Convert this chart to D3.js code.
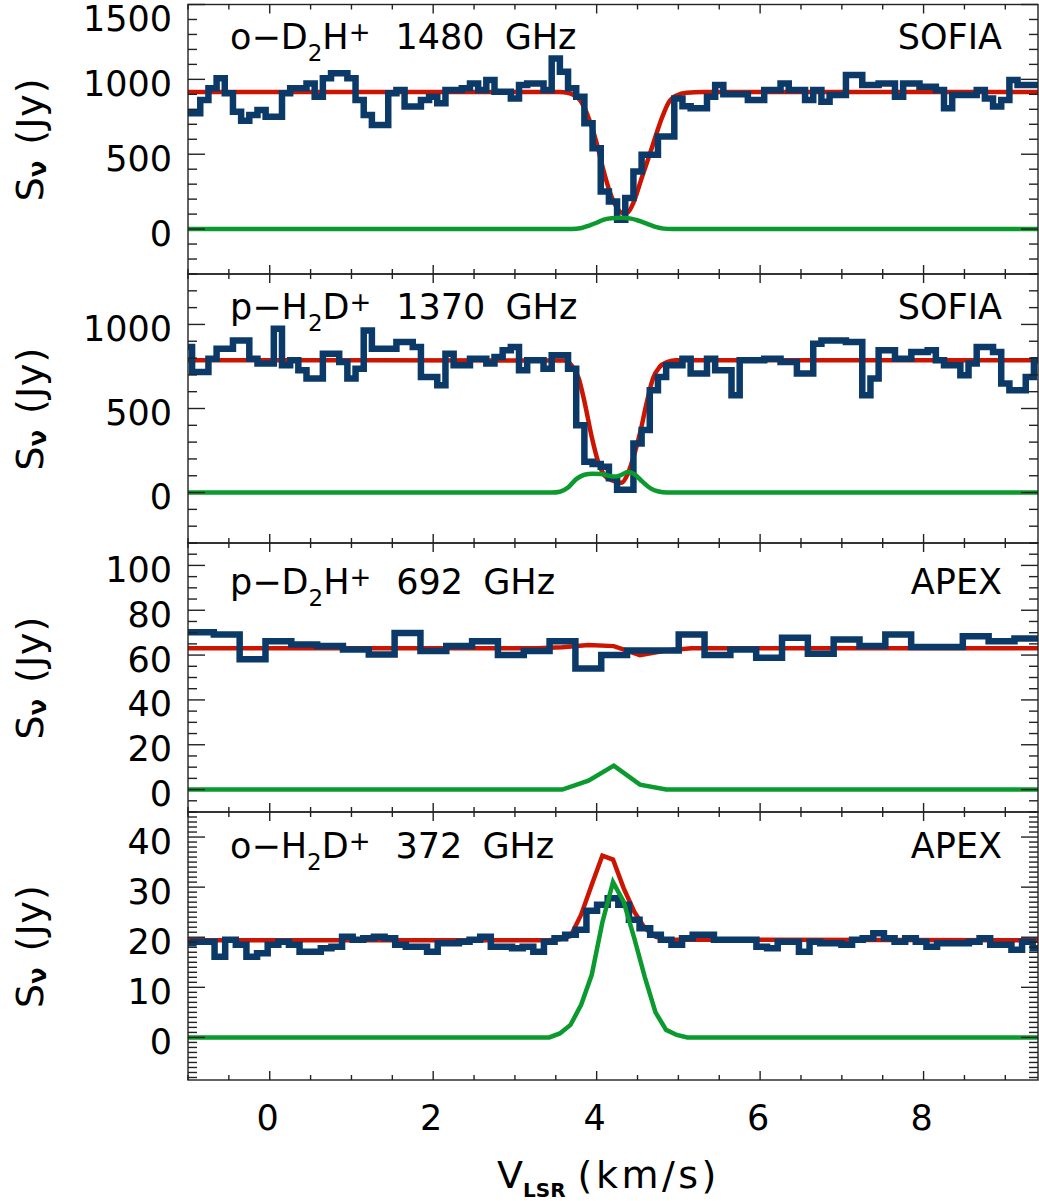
<!DOCTYPE html>
<html><head><meta charset="utf-8">
<script src="https://cdn.jsdelivr.net/npm/d3@7"></script>
<style>
body{margin:0;background:#fff}
text{font-family:"DejaVu Sans",sans-serif;fill:#000}
</style>
</head><body>
<svg id="chart" width="1039" height="1201"></svg>
<script>
// ---------------- DATA ----------------
const xTicks = [0, 2, 4, 6, 8];
const xMinorStep = 0.5;

const yTicks1 = [0, 500, 1000, 1500];
const yTicks2 = [0, 500, 1000];
const yTicks3 = [0, 20, 40, 60, 80, 100];
const yTicks4 = [0, 10, 20, 30, 40];
const yMinorSteps = [100, 100, 5, 1];
const yDomains = [[-300, 1500], [-300, 1300], [-10, 110], [-8.5, 45]];

const lineLabels = [
  [["o\u2212D", 0], ["2", -1], ["H", 0], ["+", 1], ["1480 GHz", 2]],
  [["p\u2212H", 0], ["2", -1], ["D", 0], ["+", 1], ["1370 GHz", 2]],
  [["p\u2212D", 0], ["2", -1], ["H", 0], ["+", 1], ["692 GHz", 2]],
  [["o\u2212H", 0], ["2", -1], ["D", 0], ["+", 1], ["372 GHz", 2]]
];
const telescopes = ["SOFIA", "SOFIA", "APEX", "APEX"];

// channel grids (first channel centre, channel width in km/s)
const chanStart = [-1.0, -1.0, -0.842, -1.0];
const chanWidth = [0.1, 0.1, 0.316, 0.13];

// observed spectra (Jy), one value per channel
const obsD2H1480 = [
  773, 773, 862, 940, 1007, 907, 784, 724, 762, 796,
  751, 751, 907, 940, 940, 973, 884, 1007, 1040, 1040,
  1007, 862, 762, 696, 696, 907, 929, 818, 818, 862,
  884, 840, 929, 929, 940, 973, 929, 996, 918, 918,
  873, 962, 973, 973, 929, 1140, 1051, 940, 884, 707,
  540, 251, 184, 62, 207, 384, 496, 496, 618, 618,
  873, 820, 807, 807, 884, 962, 900, 900, 900, 862,
  862, 929, 929, 973, 929, 929, 862, 929, 851, 896,
  896, 1029, 1029, 962, 962, 973, 973, 884, 973, 973,
  951, 951, 929, 807, 896, 896, 896, 929, 873, 818,
  862, 996, 962, 962, 962
];
const obsH2D1370 = [
  866, 717, 717, 796, 856, 856, 905, 905, 796, 767,
  767, 974, 757, 787, 727, 678, 678, 826, 826, 777,
  678, 737, 964, 856, 856, 856, 895, 895, 866, 688,
  688, 638, 826, 757, 757, 796, 796, 767, 806, 846,
  866, 727, 787, 787, 737, 816, 816, 737, 401, 184,
  170, 154, 85, 16, 16, 292, 372, 609, 688, 757,
  757, 796, 708, 708, 796, 727, 727, 579, 787, 787,
  787, 796, 796, 777, 777, 708, 708, 885, 905, 905,
  905, 895, 895, 579, 678, 846, 846, 796, 796, 836,
  836, 846, 787, 757, 757, 698, 767, 866, 866, 836,
  648, 609, 609, 688, 787
];
const obsD2H692 = [
  70.2, 69.2, 58.1, 66.2, 64.7, 64.0, 62.5, 60.3, 69.9, 61.8,
  64.0, 66.2, 60.0, 61.8, 66.2, 54.0, 60.0, 62.1, 62.1, 69.2,
  60.0, 62.5, 58.8, 67.7, 60.6, 67.0, 64.0, 69.2, 63.6, 63.6,
  68.4, 66.2, 67.4
];
const obsH2D372 = [
  18.8, 19.1, 19.1, 16.1, 19.5, 18.5, 16.1, 16.8, 18.5, 19.1,
  18.5, 17.1, 17.1, 17.8, 18.1, 20.1, 19.5, 19.8, 20.1, 19.8,
  18.5, 18.1, 18.1, 17.1, 18.8, 18.8, 19.1, 19.5, 20.1, 18.1,
  18.1, 17.8, 18.1, 17.1, 19.1, 19.8, 20.5, 21.5, 25.3, 26.5,
  27.8, 26.5, 23.5, 21.8, 20.5, 19.5, 18.5, 19.8, 20.5, 20.5,
  19.5, 19.5, 19.5, 19.5, 18.1, 17.8, 19.1, 19.1, 17.1, 19.1,
  18.8, 18.8, 18.5, 19.5, 19.8, 20.8, 19.8, 19.1, 19.8, 19.1,
  18.1, 18.8, 18.8, 18.8, 19.1, 19.8, 18.5, 18.5, 17.5, 19.1,
  17.8
];

// total model (red) as [velocity, flux]
const fitD2H1480 = [[-1, 915], [3.55, 915], [3.64, 911], [3.72, 896], [3.80, 860], [3.86, 800], [3.92, 715], [4.00, 575], [4.08, 400], [4.16, 250], [4.24, 150], [4.32, 108], [4.38, 112], [4.46, 190], [4.55, 340], [4.64, 484], [4.72, 618], [4.80, 745], [4.88, 845], [4.98, 893], [5.10, 910], [5.30, 915], [9.4, 915]];
const fitH2D1370 = [[-1, 787], [3.60, 785], [3.70, 752], [3.78, 680], [3.86, 520], [3.94, 330], [4.02, 180], [4.10, 100], [4.20, 70], [4.30, 58], [4.38, 110], [4.45, 210], [4.53, 352], [4.61, 530], [4.69, 680], [4.77, 747], [4.87, 777], [4.97, 787], [9.4, 787]];
const fitD2H692 = [[-1, 63], [3.27, 63], [3.58, 63.5], [3.90, 64.5], [4.21, 64], [4.53, 60], [4.85, 62], [5.16, 63], [9.4, 63]];
const fitH2D372 = [[-1, 19.4], [3.42, 19.4], [3.55, 19.6], [3.68, 20.2], [3.81, 24.5], [3.94, 30.5], [4.07, 36.3], [4.20, 35.5], [4.33, 29.8], [4.46, 25.1], [4.59, 21.8], [4.72, 20.1], [4.85, 19.5], [9.4, 19.4]];

// component (green) as [velocity, flux]
const compD2H1480 = [[-1, 0], [3.70, 0], [3.80, 5], [3.90, 22], [4.00, 42], [4.08, 62], [4.18, 72], [4.30, 75], [4.42, 70], [4.52, 55], [4.62, 35], [4.72, 15], [4.82, 3], [4.92, 0], [9.4, 0]];
const compH2D1370 = [[-1, 0], [3.45, 0], [3.55, 5], [3.65, 30], [3.75, 80], [3.85, 106], [3.95, 112], [4.05, 110], [4.15, 100], [4.22, 95], [4.30, 105], [4.38, 122], [4.46, 110], [4.56, 65], [4.66, 25], [4.76, 6], [4.86, 0], [9.4, 0]];
const compD2H692 = [[-1, 0], [3.27, 0], [3.58, 0], [3.90, 4], [4.21, 10.7], [4.53, 2.2], [4.85, 0], [9.4, 0]];
const compH2D372 = [[-1, 0], [3.42, 0], [3.55, 0.8], [3.68, 2.5], [3.81, 6.5], [3.94, 12.5], [4.07, 23], [4.20, 31], [4.33, 27.1], [4.46, 19.8], [4.59, 12], [4.72, 5], [4.85, 1.5], [4.98, 0.5], [5.11, 0], [9.4, 0]];

const observed = [obsD2H1480, obsH2D1370, obsD2H692, obsH2D372];
const fits = [fitD2H1480, fitH2D1370, fitD2H692, fitH2D372];
const comps = [compD2H1480, compH2D1370, compD2H692, compH2D372];
const yTicks = [yTicks1, yTicks2, yTicks3, yTicks4];
const smoothModel = [true, true, false, false];

// ---------------- LAYOUT ----------------
const left = 188, right = 1038;
const panelTop = [4.5, 274, 543, 812];
const panelBot = [274, 543, 812, 1080];
const labelOffset = [44.5, 45, 50.5, 46];
const COL_OBS = "#0b3a68", COL_FIT = "#cc1500", COL_COMP = "#0a9a2e", COL_AX = "#222";

const svg = d3.select("#chart");
const x = d3.scaleLinear().domain([-1, 9.4]).range([left, right]);

panelTop.forEach((top, p) => {
  const bot = panelBot[p];
  const y = d3.scaleLinear().domain(yDomains[p]).range([bot, top]);
  const g = svg.append("g");

  const clipId = "clip" + p;
  svg.append("clipPath").attr("id", clipId).append("rect")
    .attr("x", left).attr("y", top).attr("width", right - left).attr("height", bot - top);
  const plot = g.append("g").attr("clip-path", `url(#${clipId})`);

  const lineGen = d3.line().x(d => x(d[0])).y(d => y(d[1]));
  const smoothGen = d3.line().x(d => x(d[0])).y(d => y(d[1])).curve(d3.curveMonotoneX);
  const mGen = smoothModel[p] ? smoothGen : lineGen;

  // red total model
  plot.append("path").datum(fits[p]).attr("d", mGen)
    .attr("fill", "none").attr("stroke", COL_FIT).attr("stroke-width", 4.5);

  // observed histogram
  const w = chanWidth[p], s0 = chanStart[p];
  const steps = [];
  observed[p].forEach((v, i) => {
    const c = s0 + i * w;
    steps.push([c - w / 2, v], [c + w / 2, v]);
  });
  plot.append("path").datum(steps).attr("d", lineGen)
    .attr("fill", "none").attr("stroke", COL_OBS).attr("stroke-width", 6.5)
    .attr("stroke-linejoin", "miter");

  // green component
  plot.append("path").datum(comps[p]).attr("d", mGen)
    .attr("fill", "none").attr("stroke", COL_COMP).attr("stroke-width", 4.5);

  // frame
  g.append("rect").attr("x", left).attr("y", top).attr("width", right - left).attr("height", bot - top)
    .attr("fill", "none").attr("stroke", COL_AX).attr("stroke-width", 1.4);

  // x ticks (top & bottom)
  const xMinor = d3.range(-1, 9.4001, xMinorStep);
  xMinor.forEach(v => {
    const major = xTicks.includes(Math.round(v * 100) / 100);
    const len = major ? 9 : 5;
    const px = x(v);
    g.append("line").attr("x1", px).attr("x2", px).attr("y1", bot).attr("y2", bot - len)
      .attr("stroke", COL_AX).attr("stroke-width", 1.4);
    g.append("line").attr("x1", px).attr("x2", px).attr("y1", top).attr("y2", top + len)
      .attr("stroke", COL_AX).attr("stroke-width", 1.4);
  });

  // y ticks (left & right)
  const dom = yDomains[p], ms = yMinorSteps[p];
  const yMinor = d3.range(Math.ceil(dom[0] / ms) * ms, dom[1] + ms * 0.001, ms);
  yMinor.forEach(v => {
    const major = yTicks[p].some(t => Math.abs(t - v) < 1e-6);
    const len = major ? 17 : 9;
    const py = y(v);
    g.append("line").attr("x1", left).attr("x2", left + len).attr("y1", py).attr("y2", py)
      .attr("stroke", COL_AX).attr("stroke-width", 1.4);
    g.append("line").attr("x1", right).attr("x2", right - len).attr("y1", py).attr("y2", py)
      .attr("stroke", COL_AX).attr("stroke-width", 1.4);
  });

  // y tick labels (kept inside the page at the very top)
  yTicks[p].forEach(t => {
    const by = Math.max(y(t) + 16.5, 31);
    g.append("text").attr("x", 172).attr("y", by)
      .attr("text-anchor", "end").attr("font-size", 35).text(t);
  });

  // y axis title
  const cy = (top + bot) / 2;
  const yt = g.append("text").attr("transform", `translate(43,${cy}) rotate(-90)`)
    .attr("text-anchor", "middle").attr("font-size", 38);
  yt.append("tspan").text("S");
  yt.append("tspan").attr("font-size", 24).attr("font-weight", "bold").attr("dy", 3).text("\u03bd");
  yt.append("tspan").attr("dy", -3).attr("dx", 16).attr("letter-spacing", 1).text("(Jy)");

  // line label
  const baseY = top + labelOffset[p];
  const lt = g.append("text").attr("x", 230).attr("y", baseY).attr("font-size", 35);
  let prev = 0;
  lineLabels[p].forEach(([str, kind]) => {
    const ts = lt.append("tspan").text(str);
    const target = kind === -1 ? 12 : kind === 1 ? -8 : 0;
    ts.attr("dy", target - prev);
    prev = target;
    if (kind === -1) ts.attr("font-size", 23);
    if (kind === 1) ts.attr("font-size", 26);
    if (kind === 2) ts.attr("dx", 25).attr("word-spacing", 9);
  });

  // telescope
  g.append("text").attr("x", 1002).attr("y", baseY).attr("text-anchor", "end")
    .attr("font-size", 35).text(telescopes[p]);

  // x tick labels on bottom panel
  if (p === panelTop.length - 1) {
    xTicks.forEach(t => {
      g.append("text").attr("x", x(t) - 2).attr("y", 1130).attr("text-anchor", "middle")
        .attr("font-size", 35).text(t);
    });
  }
});

// x axis title
const xt = svg.append("text").attr("x", 497).attr("y", 1188).attr("font-size", 38);
xt.append("tspan").text("V");
xt.append("tspan").attr("font-size", 20).attr("font-weight", "bold").attr("dy", 9).text("LSR");
xt.append("tspan").attr("dy", -9).attr("dx", 12).attr("letter-spacing", 3.5).text("(km/s)");
</script>
</body></html>
